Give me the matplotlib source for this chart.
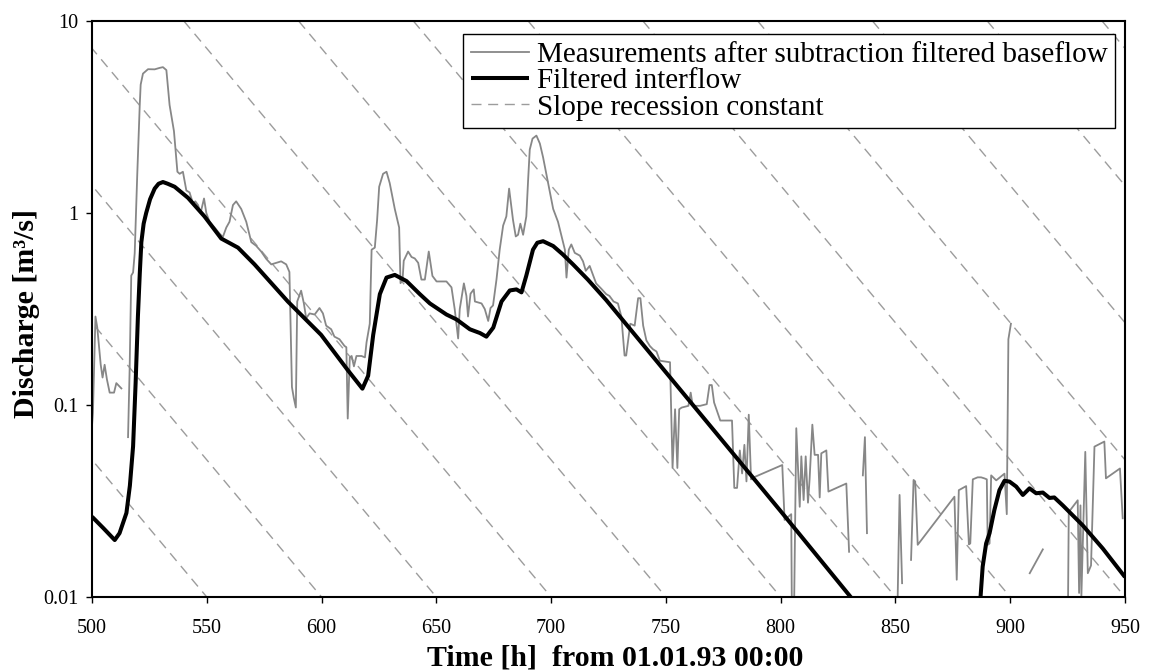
import numpy as np
import matplotlib
matplotlib.use("Agg")
import matplotlib.pyplot as plt

nan = np.nan

# Measurements after subtraction of the filtered baseflow (nan = gap in record)
meas_t = [500.0, 500.4, 501.5, 502.3, 503.8, 504.6, 505.5, 506.5, 507.7, 509.6, 510.6, 512.8, nan,
          515.7, 516.4, 517.1, 517.9, 518.6, 519.7, 520.8, 521.2, 522.2, 524.4, 527.3, 529.5, 530.9,
          532.4, 533.8, 535.7, 537.2, 538.2, 539.6, 541.1, 542.5, 544.0, 545.0, 546.2, 547.3, 548.8,
          549.8, 551.2, 553.4, 555.6, 557.0, 558.5, 559.9, 561.4, 562.8, 565.0, 567.2, 569.4, 571.5,
          573.7, 575.9, 578.1, 580.2, 582.4, 584.6, 586.0, 587.1, 587.9, 588.8, 589.4, 591.1, 592.3,
          593.3, 594.8, 597.0, 599.1, 600.6, 602.0, 604.2, 605.6, 607.8, 610.0, 610.8, 611.4, 612.3,
          613.1, 614.1, 615.2, 617.4, 618.9, 619.6, 621.0, 621.8, 623.2, 624.2, 625.1, 626.8, 628.3,
          629.7, 631.9, 633.8, 634.4, 635.3, 635.8, 637.7, 639.2, 640.6, 642.1, 643.5, 645.0, 646.7,
          648.3, 650.1, 654.4, 656.6, 658.0, 659.5, 660.2, 662.0, 663.1, 663.8, 664.9, 666.3, 666.8,
          669.7, 671.1, 672.6, 673.6, 674.7, 676.2, 677.6, 679.1, 680.5, 681.7, 683.4, 684.6, 685.6,
          686.6, 687.8, 689.2, 690.0, 690.7, 691.9, 693.6, 695.1, 696.5, 698.7, 700.9, 703.0, 704.9,
          706.0, 706.7, 707.7, 708.8, 710.3, 712.5, 713.9, 715.1, 716.8, 719.6, 721.8, 724.0, 725.4,
          727.2, 729.1, 730.6, 732.0, 732.7, 734.5, 736.4, 737.9, 738.9, 740.1, 741.5, 743.0, 744.4,
          745.9, 747.4, 751.8, 752.9, 754.0, 755.0, 755.8, 756.9, 759.8, 760.8, 761.7, 764.9, 767.8,
          769.0, 770.0, 771.0, 773.7, 778.8, 779.8, 781.0, 782.2, 783.2, 784.2, 785.1, 786.1, 787.1,
          788.3, 800.7, 801.7, 804.6, 805.0, 805.6, 806.8, 808.3, 809.0, 810.0, 810.9, 811.9, 812.6,
          813.8, 814.8, 816.3, 817.0, 817.7, 819.9, 820.8, 828.6, 829.8, nan,
          835.8, 836.7, 837.6, nan,
          850.5, 851.8, 852.9, nan,
          856.8, 857.9, 858.6, 859.7, 875.7, 876.7, 877.6, 880.8, 882.0, 882.6, 883.7, 885.8, 887.3,
          888.7, 889.8, 890.2, 891.0, 891.7, 893.9, 897.5, 898.5, 899.2, 900.3, nan,
          908.5, 914.2, nan,
          925.0, 925.5, 929.4, 930.0, 930.6, 931.0, 932.7, 933.8, 935.2, 936.7, 941.0, 941.7, 947.8,
          949.0]
meas_q = [0.078, 0.091, 0.289, 0.253, 0.162, 0.139, 0.162, 0.136, 0.116, 0.116, 0.130, 0.122, nan,
          0.068, 0.155, 0.472, 0.49, 0.617, 1.57, 3.65, 4.66, 5.32, 5.61, 5.6, 5.7, 5.75,
          5.55, 3.65, 2.67, 1.64, 1.6, 1.64, 1.31, 1.28, 1.12, 1.15, 1.10, 1.0, 1.19,
          1.0, 0.90, 0.84, 0.78, 0.75, 0.84, 0.90, 1.10, 1.15, 1.05, 0.90, 0.705, 0.675,
          0.63, 0.577, 0.54, 0.55, 0.56, 0.54, 0.493, 0.124, 0.109, 0.097, 0.346, 0.394, 0.338,
          0.283, 0.30, 0.296, 0.32, 0.30, 0.259, 0.248, 0.227, 0.22, 0.203, 0.20, 0.085, 0.177,
          0.18, 0.159, 0.18, 0.18, 0.177, 0.212, 0.265, 0.644, 0.66, 0.918, 1.37, 1.6, 1.64,
          1.43, 1.05, 0.84, 0.431, 0.45, 0.564, 0.63, 0.59, 0.58, 0.55, 0.45, 0.45, 0.63,
          0.47, 0.44, 0.44, 0.41, 0.316, 0.222, 0.316, 0.43, 0.37, 0.289, 0.38, 0.40, 0.346,
          0.338, 0.316, 0.274, 0.32, 0.33, 0.45, 0.644, 0.86, 0.96, 1.34, 0.92, 0.755, 0.77,
          0.88, 0.77, 0.96, 1.5, 2.14, 2.44, 2.53, 2.3, 1.95, 1.43, 1.05, 0.90, 0.73,
          0.644, 0.461, 0.644, 0.686, 0.62, 0.60, 0.56, 0.50, 0.53, 0.43, 0.404, 0.378, 0.37,
          0.346, 0.338, 0.289, 0.181, 0.181, 0.265, 0.259, 0.36, 0.36, 0.259, 0.217, 0.203, 0.195,
          0.19, 0.17, 0.167, 0.047, 0.095, 0.047, 0.095, 0.097, 0.099, 0.116, 0.099, 0.099, 0.101,
          0.127, 0.127, 0.103, 0.083, 0.083, 0.037, 0.037, 0.058, 0.044, 0.062, 0.040, 0.089, 0.041,
          0.042, 0.0487, 0.0252, 0.027, 0.005, 0.005, 0.0757, 0.0295, 0.054, 0.032, 0.054, 0.031, 0.041,
          0.079, 0.055, 0.055, 0.033, 0.056, 0.058, 0.0354, 0.039, 0.0172, nan,
          0.043, 0.068, 0.0215, nan,
          0.005, 0.034, 0.0118, nan,
          0.0156, 0.0407, 0.040, 0.0187, 0.0333, 0.0123, 0.036, 0.0378, 0.0188, 0.019, 0.041, 0.042, 0.042,
          0.0415, 0.041, 0.0187, 0.019, 0.043, 0.0405, 0.0439, 0.027, 0.22, 0.265, nan,
          0.0133, 0.0177, nan,
          0.005, 0.0277, 0.0319, 0.0105, 0.030, 0.0101, 0.057, 0.0133, 0.0146, 0.0607, 0.0645, 0.0415, 0.0467,
          0.0257]

# Filtered interflow
flow_t = [500, 505, 509.9, 512, 515, 516.5, 517.9, 519, 520, 520.8, 521.5, 522.5, 523.6, 525.3,
          527.3, 529, 530.9, 533, 536, 541.8, 549, 556.3, 559.2, 563.6, 570.8, 585.3, 599.8, 611.4,
          617.8, 620.3, 622.5, 625.4, 628.3, 631.9, 637, 642.8, 647.2, 654.4, 658.8, 664.6, 669,
          671.8, 674.8, 678.4, 682, 684.9, 687.1, 689.2, 692.1, 694, 696.5, 700.9, 705, 709.6, 716,
          724, 750, 775, 800, 830.5, 832, nan,
          886.8, 888, 889.5, 891, 893.1, 895.3, 897.5, 899.7, 902.6, 905.5, 908.4, 911.3, 914.2,
          917.1, 919.2, 922.9, 931.6, 940.3, 950]
flow_q = [0.0262, 0.0228, 0.0198, 0.0215, 0.0274, 0.038, 0.061, 0.13, 0.289, 0.48, 0.705, 0.88, 1.0, 1.18,
          1.34, 1.42, 1.45, 1.42, 1.37, 1.2, 0.96, 0.736, 0.705, 0.66, 0.54, 0.346, 0.232, 0.152,
          0.1216, 0.142, 0.232, 0.378, 0.461, 0.476, 0.442, 0.378, 0.338, 0.296, 0.279, 0.248, 0.237,
          0.227, 0.253, 0.346, 0.395, 0.40, 0.386, 0.472, 0.644, 0.70, 0.713, 0.673, 0.61, 0.539, 0.45,
          0.352, 0.148, 0.0644, 0.028, 0.01, 0.0095, nan,
          0.009, 0.0144, 0.019, 0.0215, 0.0284, 0.036, 0.0403, 0.0399, 0.0376, 0.034, 0.0368, 0.0347, 0.035,
          0.0328, 0.033, 0.030, 0.0236, 0.0179, 0.0127]

# Recession reference lines: time at which each line reaches 0.01 m3/s
slope_end_t = [500, 550, 600, 650, 700, 750, 800, 850, 900, 950, 1000, 1050, 1100, 1150]
recession_k = 30.4  # h
q_top, q_bottom = 10.0, 0.01

x_ticks = [500, 550, 600, 650, 700, 750, 800, 850, 900, 950]
y_ticks = [0.01, 0.1, 1, 10]
y_tick_labels = ["0.01", "0.1", "1", "10"]

plt.rcParams['font.family'] = ['Liberation Serif', 'DejaVu Serif']

fig = plt.figure(figsize=(11.51, 6.72), dpi=100)
ax = fig.add_axes([92 / 1151, 1 - 597 / 672, (1125 - 92) / 1151, (597 - 21) / 672])

# dashed recession lines: straight on a log axis, drawn between top and bottom of the range
span = recession_k * np.log(q_top / q_bottom)
for i, t_end in enumerate(slope_end_t):
    ax.plot([t_end - span, t_end], [q_top, q_bottom], color='#9c9c9c', lw=1.0,
            dashes=(7.2, 4.8), zorder=1, label='Slope recession constant' if i == 0 else None)

ax.plot(meas_t, meas_q, color='#878787', lw=1.3, zorder=2,
        label='Measurements after subtraction filtered baseflow')
ax.plot(flow_t, flow_q, color='black', lw=2.9, zorder=3, solid_capstyle='butt',
        label='Filtered interflow')

ax.set_yscale('log')
ax.set_xlim(500, 950)
ax.set_ylim(0.01, 10)
ax.set_xticks(x_ticks)
ax.set_yticks(y_ticks)
ax.set_yticklabels(y_tick_labels)
ax.yaxis.set_minor_locator(matplotlib.ticker.NullLocator())
ax.tick_params(axis='both', direction='out', length=4.5, width=1, labelsize=14.5, pad=5)
ax.tick_params(axis='x', pad=11)
for sp in ax.spines.values():
    sp.set_linewidth(1.5)

ax.set_xlabel('Time [h]  from 01.01.93 00:00', fontsize=21.5, fontweight='bold')
ax.xaxis.set_label_coords(0.506, -0.083)
ax.set_ylabel('Discharge [m³/s]', fontsize=21.5, fontweight='bold')
ax.yaxis.set_label_coords(-0.050, 0.493)

handles, labels = ax.get_legend_handles_labels()
order = [1, 2, 0]
leg = ax.legend([handles[i] for i in order], [labels[i] for i in order],
                loc='upper right', bbox_to_anchor=((1115 - 92) / 1033, (597 - 34) / 576),
                borderaxespad=0, fontsize=21, frameon=True, fancybox=False,
                edgecolor='black', framealpha=1, borderpad=0.25, labelspacing=0.0,
                handlelength=2.0, handletextpad=0.27)
leg.get_frame().set_linewidth(1.0)

fig.savefig('out.png', dpi=100)
